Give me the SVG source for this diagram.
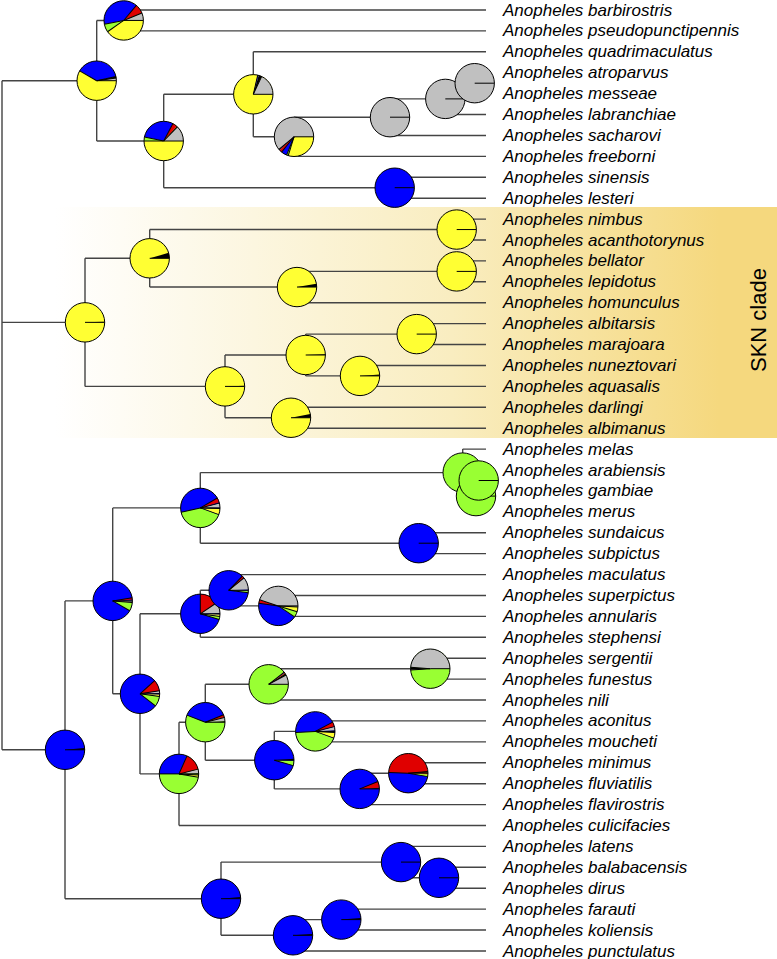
<svg xmlns="http://www.w3.org/2000/svg" xmlns:xlink="http://www.w3.org/1999/xlink" width="777" height="959" viewBox="0 0 777 959">
<style>
.e{fill:none;stroke:#444;stroke-width:1.4}
.t{font-family:"Liberation Sans",Arial,sans-serif;font-size:17px;font-style:italic;fill:#000}
.bye{fill:#ffff33}.bgy{fill:#c0c0c0}.bbl{fill:#0000ff}.bgn{fill:#99ff33}.brd{fill:#e00000}
.w{fill:none;stroke-width:19.7}
.sye{stroke:#ffff33}.sgy{stroke:#c0c0c0}.sbl{stroke:#0000ff}.sgn{stroke:#99ff33}.srd{stroke:#e00000}.sbk{stroke:#000}
.o{fill:none;stroke:#000;stroke-width:1}
.rl{stroke:#000;stroke-width:1}
</style>
<defs>
<linearGradient id="skn" x1="55" y1="0" x2="777" y2="0" gradientUnits="userSpaceOnUse">
<stop offset="0" stop-color="#ffffff"/>
<stop offset="0.55" stop-color="#f9edc0"/>
<stop offset="0.92" stop-color="#f5d87e"/>
<stop offset="1" stop-color="#f5d87e"/>
</linearGradient>
<line id="r" class="rl" x1="0" y1="0" x2="19.7" y2="0"/>
</defs>
<rect x="55" y="207" width="722" height="231" fill="url(#skn)"/>
<text x="766" y="320" transform="rotate(-90 766 320)" text-anchor="middle" font-family="'Liberation Sans',Arial,sans-serif" font-size="22">SKN clade</text>

<g id="connectors" class="e">
<path d="M2 80.7V749.8M2 80.7H96.7M2 322.35H85M2 749.8H65"/>
<path d="M96.7 20.45V141M96.7 20.45H123.7M96.7 141H163.7"/>
<path d="M123.7 10V30.9M123.7 10H486M123.7 30.9H486"/>
<path d="M163.7 94.3V187.7M163.7 94.3H253.3M163.7 187.7H394.7"/>
<path d="M253.3 51.8V136.8M253.3 51.8H486M253.3 136.8H294"/>
<path d="M294 117.2V156.4M294 117.2H390M294 156.4H486"/>
<path d="M390 98.9V135.5M390 98.9H445.3M390 135.5H486"/>
<path d="M445.3 83.2V114.55M445.3 83.2H474.7M445.3 114.55H486"/>
<path d="M474.7 72.7V93.6M474.7 72.7H486M474.7 93.6H486"/>
<path d="M394.7 177.3V198.2M394.7 177.3H486M394.7 198.2H486"/>
<path d="M85 258.3V386.4M85 258.3H149.7M85 386.4H225"/>
<path d="M149.7 229.55V287.05M149.7 229.55H456.7M149.7 287.05H297"/>
<path d="M456.7 219.1V240M456.7 219.1H486M456.7 240H486"/>
<path d="M297 271.4V302.7M297 271.4H456.7M297 302.7H486"/>
<path d="M456.7 260.9V281.8M456.7 260.9H486M456.7 281.8H486"/>
<path d="M225 355V417.75M225 355H305.7M225 417.75H291"/>
<path d="M305.7 334.1V375.9M305.7 334.1H416.7M305.7 375.9H360"/>
<path d="M416.7 323.65V344.55M416.7 323.65H486M416.7 344.55H486"/>
<path d="M360 365.5V386.4M360 365.5H486M360 386.4H486"/>
<path d="M291 407.3V428.2M291 407.3H486M291 428.2H486"/>
<path d="M65 600.9V898.7M65 600.9H112.7M65 898.7H221"/>
<path d="M112.7 507.9V693.8M112.7 507.9H200.3M112.7 693.8H140"/>
<path d="M200.3 472.6V543.2M200.3 472.6H462.7M200.3 543.2H418.7"/>
<path d="M462.7 449.1V496.1M462.7 449.1H486M462.7 496.1H476"/>
<path d="M476 480.5V511.8M476 480.5H478.7M476 511.8H486"/>
<path d="M478.7 470V490.9M478.7 470H486M478.7 490.9H486"/>
<path d="M418.7 532.75V553.65M418.7 532.75H486M418.7 553.65H486"/>
<path d="M140 613.8V773.9M140 613.8H200.3M140 773.9H179"/>
<path d="M200.3 590.3V637.3M200.3 590.3H228.7M200.3 637.3H486"/>
<path d="M228.7 574.6V605.9M228.7 574.6H486M228.7 605.9H278.3"/>
<path d="M278.3 595.5V616.4M278.3 595.5H486M278.3 616.4H486"/>
<path d="M179 722.2V825.5M179 722.2H205.3M179 825.5H486"/>
<path d="M205.3 684.3V760.2M205.3 684.3H268.7M205.3 760.2H274.3"/>
<path d="M268.7 668.7V700M268.7 668.7H430.3M268.7 700H486"/>
<path d="M430.3 658.2V679.1M430.3 658.2H486M430.3 679.1H486"/>
<path d="M274.3 731.4V788.9M274.3 731.4H315.3M274.3 788.9H359.7"/>
<path d="M315.3 720.9V741.85M315.3 720.9H486M315.3 741.85H486"/>
<path d="M359.7 773.2V804.6M359.7 773.2H408.3M359.7 804.6H486"/>
<path d="M408.3 762.8V783.7M408.3 762.8H486M408.3 783.7H486"/>
<path d="M221 862.1V935.3M221 862.1H401M221 935.3H293"/>
<path d="M401 846.4V877.8M401 846.4H486M401 877.8H439"/>
<path d="M439 867.3V888.2M439 867.3H486M439 888.2H486"/>
<path d="M293 919.6V951M293 919.6H341.3M293 951H486"/>
<path d="M341.3 909.1V930M341.3 909.1H486M341.3 930H486"/>
</g>

<g id="pies">
<g id="node-A" transform="translate(96.7 80.7)"><circle r="19.7" class="bye"/>
<circle r="9.85" pathLength="360" class="w sgy" stroke-dasharray="8 400" transform="rotate(-8)"/>
<circle r="9.85" pathLength="360" class="w sbk" stroke-dasharray="4 400" transform="rotate(-12)"/>
<circle r="9.85" pathLength="360" class="w sbl" stroke-dasharray="138 400" transform="rotate(-150)"/>
<circle r="19.7" class="o"/><use href="#r"/><use href="#r" transform="rotate(-8)"/><use href="#r" transform="rotate(-12)"/><use href="#r" transform="rotate(-150)"/></g>

<g id="node-B" transform="translate(123.7 20.45)"><circle r="19.7" class="bye"/>
<circle r="9.85" pathLength="360" class="w sgy" stroke-dasharray="22 400" transform="rotate(-22)"/>
<circle r="9.85" pathLength="360" class="w srd" stroke-dasharray="28 400" transform="rotate(-50)"/>
<circle r="9.85" pathLength="360" class="w sbl" stroke-dasharray="141 400" transform="rotate(-191)"/>
<circle r="9.85" pathLength="360" class="w sgn" stroke-dasharray="24 400" transform="rotate(-215)"/>
<circle r="19.7" class="o"/><use href="#r"/><use href="#r" transform="rotate(-22)"/><use href="#r" transform="rotate(-50)"/><use href="#r" transform="rotate(-191)"/><use href="#r" transform="rotate(-215)"/></g>

<g id="node-C" transform="translate(163.7 141)"><circle r="19.7" class="bye"/>
<circle r="9.85" pathLength="360" class="w sgy" stroke-dasharray="46 400" transform="rotate(-46)"/>
<circle r="9.85" pathLength="360" class="w sbk" stroke-dasharray="2 400" transform="rotate(-48)"/>
<circle r="9.85" pathLength="360" class="w srd" stroke-dasharray="14 400" transform="rotate(-62)"/>
<circle r="9.85" pathLength="360" class="w sbl" stroke-dasharray="106 400" transform="rotate(-168)"/>
<circle r="9.85" pathLength="360" class="w sgn" stroke-dasharray="12 400" transform="rotate(-180)"/>
<circle r="19.7" class="o"/><use href="#r"/><use href="#r" transform="rotate(-46)"/><use href="#r" transform="rotate(-62)"/><use href="#r" transform="rotate(-168)"/><use href="#r" transform="rotate(-180)"/></g>

<g id="node-D" transform="translate(253.3 94.3)"><circle r="19.7" class="bye"/>
<circle r="9.85" pathLength="360" class="w sgy" stroke-dasharray="65 400" transform="rotate(-65)"/>
<circle r="9.85" pathLength="360" class="w sbk" stroke-dasharray="9 400" transform="rotate(-74)"/>
<circle r="9.85" pathLength="360" class="w sbl" stroke-dasharray="3 400" transform="rotate(-77)"/>
<circle r="19.7" class="o"/><use href="#r"/><use href="#r" transform="rotate(-65)"/><use href="#r" transform="rotate(-77)"/></g>

<g id="node-E" transform="translate(294 136.8)"><circle r="19.7" class="bgy"/>
<circle r="9.85" pathLength="360" class="w sbk" stroke-dasharray="3 400" transform="rotate(-223)"/>
<circle r="9.85" pathLength="360" class="w srd" stroke-dasharray="8 400" transform="rotate(-231)"/>
<circle r="9.85" pathLength="360" class="w sbl" stroke-dasharray="17 400" transform="rotate(-248)"/>
<circle r="9.85" pathLength="360" class="w sgn" stroke-dasharray="5 400" transform="rotate(-253)"/>
<circle r="9.85" pathLength="360" class="w sye" stroke-dasharray="107 400"/>
<circle r="19.7" class="o"/><use href="#r"/><use href="#r" transform="rotate(-220)"/><use href="#r" transform="rotate(-231)"/><use href="#r" transform="rotate(-248)"/><use href="#r" transform="rotate(-253)"/></g>

<g id="node-F" transform="translate(390 117.2)"><circle r="19.7" class="bgy"/><circle r="19.7" class="o"/><use href="#r"/></g>
<g id="node-G" transform="translate(445.3 98.9)"><circle r="19.7" class="bgy"/><circle r="19.7" class="o"/><use href="#r"/></g>
<g id="node-H" transform="translate(474.7 83.2)"><circle r="19.7" class="bgy"/><circle r="19.7" class="o"/><use href="#r"/></g>
<g id="node-I" transform="translate(394.7 187.7)"><circle r="19.7" class="bbl"/><circle r="19.7" class="o"/><use href="#r"/></g>

<g id="node-S" transform="translate(85 322.35)"><circle r="19.7" class="bye"/>
<circle r="9.85" pathLength="360" class="w sbk" stroke-dasharray="2 400" transform="rotate(-2)"/>
<circle r="19.7" class="o"/><use href="#r"/></g>
<g id="node-T" transform="translate(149.7 258.3)"><circle r="19.7" class="bye"/>
<circle r="9.85" pathLength="360" class="w sbk" stroke-dasharray="16 400" transform="rotate(-16)"/>
<circle r="19.7" class="o"/><use href="#r"/></g>
<g id="node-U" transform="translate(456.7 229.55)"><circle r="19.7" class="bye"/><circle r="19.7" class="o"/><use href="#r"/></g>
<g id="node-V" transform="translate(297 287.05)"><circle r="19.7" class="bye"/>
<circle r="9.85" pathLength="360" class="w sbk" stroke-dasharray="10 400" transform="rotate(-10)"/>
<circle r="19.7" class="o"/><use href="#r"/></g>
<g id="node-W" transform="translate(456.7 271.4)"><circle r="19.7" class="bye"/><circle r="19.7" class="o"/><use href="#r"/></g>
<g id="node-X" transform="translate(225 386.4)"><circle r="19.7" class="bye"/>
<circle r="9.85" pathLength="360" class="w sbk" stroke-dasharray="2 400" transform="rotate(-2)"/>
<circle r="19.7" class="o"/><use href="#r"/></g>
<g id="node-Y" transform="translate(305.7 355)"><circle r="19.7" class="bye"/>
<circle r="9.85" pathLength="360" class="w sbk" stroke-dasharray="2 400" transform="rotate(-2)"/>
<circle r="19.7" class="o"/><use href="#r"/></g>
<g id="node-Z" transform="translate(416.7 334.1)"><circle r="19.7" class="bye"/><circle r="19.7" class="o"/><use href="#r"/></g>
<g id="node-Q" transform="translate(360 375.9)"><circle r="19.7" class="bye"/>
<circle r="9.85" pathLength="360" class="w sbk" stroke-dasharray="4 400" transform="rotate(-4)"/>
<circle r="19.7" class="o"/><use href="#r"/></g>
<g id="node-R" transform="translate(291 417.75)"><circle r="19.7" class="bye"/>
<circle r="9.85" pathLength="360" class="w sbk" stroke-dasharray="11 400" transform="rotate(-11)"/>
<circle r="19.7" class="o"/><use href="#r"/></g>

<g id="node-BOT" transform="translate(65 749.8)"><circle r="19.7" class="bbl"/>
<circle r="9.85" pathLength="360" class="w sbk" stroke-dasharray="5 400" transform="rotate(-5)"/>
<circle r="19.7" class="o"/><use href="#r"/></g>

<g id="node-M1" transform="translate(112.7 600.9)"><circle r="19.7" class="bbl"/>
<circle r="9.85" pathLength="360" class="w sgy" stroke-dasharray="2 400" transform="rotate(-2)"/>
<circle r="9.85" pathLength="360" class="w sbk" stroke-dasharray="2 400" transform="rotate(-4)"/>
<circle r="9.85" pathLength="360" class="w srd" stroke-dasharray="5 400" transform="rotate(-9)"/>
<circle r="9.85" pathLength="360" class="w sgn" stroke-dasharray="25 400" transform="rotate(-355)"/>
<circle r="9.85" pathLength="360" class="w sye" stroke-dasharray="3 400" transform="rotate(-358)"/>
<circle r="19.7" class="o"/><use href="#r"/><use href="#r" transform="rotate(-9)"/><use href="#r" transform="rotate(-330)"/><use href="#r" transform="rotate(-355)"/></g>

<g id="node-M2" transform="translate(200.3 507.9)"><circle r="19.7" class="bbl"/>
<circle r="9.85" pathLength="360" class="w sgy" stroke-dasharray="14 400" transform="rotate(-14)"/>
<circle r="9.85" pathLength="360" class="w sbk" stroke-dasharray="2 400" transform="rotate(-16)"/>
<circle r="9.85" pathLength="360" class="w srd" stroke-dasharray="14 400" transform="rotate(-30)"/>
<circle r="9.85" pathLength="360" class="w sgn" stroke-dasharray="147 400" transform="rotate(-340)"/>
<circle r="9.85" pathLength="360" class="w sye" stroke-dasharray="18 400" transform="rotate(-358)"/>
<circle r="19.7" class="o"/><use href="#r"/><use href="#r" transform="rotate(-14)"/><use href="#r" transform="rotate(-30)"/><use href="#r" transform="rotate(-193)"/><use href="#r" transform="rotate(-340)"/><use href="#r" transform="rotate(-358)"/></g>

<g id="node-GA" transform="translate(462.7 472.6)"><circle r="19.7" class="bgn"/><circle r="19.7" class="o"/><use href="#r"/></g>
<g id="node-GC" transform="translate(476 496.1)"><circle r="19.7" class="bgn"/><circle r="19.7" class="o"/><use href="#r"/></g>
<g id="node-GB" transform="translate(478.7 480.5)"><circle r="19.7" class="bgn"/><circle r="19.7" class="o"/><use href="#r"/></g>
<g id="node-SU" transform="translate(418.7 543.2)"><circle r="19.7" class="bbl"/><circle r="19.7" class="o"/><use href="#r"/></g>

<g id="node-M3" transform="translate(140 693.8)"><circle r="19.7" class="bbl"/>
<circle r="9.85" pathLength="360" class="w sbk" stroke-dasharray="2 400" transform="rotate(-2)"/>
<circle r="9.85" pathLength="360" class="w sgy" stroke-dasharray="7 400" transform="rotate(-9)"/>
<circle r="9.85" pathLength="360" class="w srd" stroke-dasharray="33 400" transform="rotate(-42)"/>
<circle r="9.85" pathLength="360" class="w sgn" stroke-dasharray="30 400" transform="rotate(-352)"/>
<circle r="9.85" pathLength="360" class="w sye" stroke-dasharray="6 400" transform="rotate(-358)"/>
<circle r="19.7" class="o"/><use href="#r"/><use href="#r" transform="rotate(-9)"/><use href="#r" transform="rotate(-42)"/><use href="#r" transform="rotate(-322)"/><use href="#r" transform="rotate(-352)"/></g>

<g id="node-M4" transform="translate(200.3 613.8)"><circle r="19.7" class="bbl"/>
<circle r="9.85" pathLength="360" class="w sbk" stroke-dasharray="2 400" transform="rotate(-2)"/>
<circle r="9.85" pathLength="360" class="w sgy" stroke-dasharray="32 400" transform="rotate(-34)"/>
<circle r="9.85" pathLength="360" class="w srd" stroke-dasharray="56 400" transform="rotate(-90)"/>
<circle r="9.85" pathLength="360" class="w sgn" stroke-dasharray="9 400" transform="rotate(-352)"/>
<circle r="9.85" pathLength="360" class="w sye" stroke-dasharray="6 400" transform="rotate(-358)"/>
<circle r="19.7" class="o"/><use href="#r"/><use href="#r" transform="rotate(-34)"/><use href="#r" transform="rotate(-90)"/><use href="#r" transform="rotate(-343)"/><use href="#r" transform="rotate(-352)"/></g>

<g id="node-M5" transform="translate(228.7 590.3)"><circle r="19.7" class="bbl"/>
<circle r="9.85" pathLength="360" class="w sbk" stroke-dasharray="2 400" transform="rotate(-2)"/>
<circle r="9.85" pathLength="360" class="w sgy" stroke-dasharray="37 400" transform="rotate(-39)"/>
<circle r="9.85" pathLength="360" class="w srd" stroke-dasharray="7 400" transform="rotate(-46)"/>
<circle r="9.85" pathLength="360" class="w sgn" stroke-dasharray="4 400" transform="rotate(-357)"/>
<circle r="9.85" pathLength="360" class="w sye" stroke-dasharray="2 400" transform="rotate(-359)"/>
<circle r="19.7" class="o"/><use href="#r"/><use href="#r" transform="rotate(-39)"/><use href="#r" transform="rotate(-46)"/><use href="#r" transform="rotate(-353)"/></g>

<g id="node-M6" transform="translate(278.3 605.9)"><circle r="19.7" class="bgy"/>
<circle r="9.85" pathLength="360" class="w srd" stroke-dasharray="10 400" transform="rotate(-172)"/>
<circle r="9.85" pathLength="360" class="w sbl" stroke-dasharray="154 400" transform="rotate(-326)"/>
<circle r="9.85" pathLength="360" class="w sgn" stroke-dasharray="17 400" transform="rotate(-343)"/>
<circle r="9.85" pathLength="360" class="w sye" stroke-dasharray="14 400" transform="rotate(-357)"/>
<circle r="19.7" class="o"/><use href="#r"/><use href="#r" transform="rotate(-162)"/><use href="#r" transform="rotate(-172)"/><use href="#r" transform="rotate(-326)"/><use href="#r" transform="rotate(-343)"/><use href="#r" transform="rotate(-357)"/></g>

<g id="node-M7" transform="translate(179 773.9)"><circle r="19.7" class="bgn"/>
<circle r="9.85" pathLength="360" class="w sbk" stroke-dasharray="2 400" transform="rotate(-2)"/>
<circle r="9.85" pathLength="360" class="w sgy" stroke-dasharray="12 400" transform="rotate(-14)"/>
<circle r="9.85" pathLength="360" class="w srd" stroke-dasharray="52 400" transform="rotate(-66)"/>
<circle r="9.85" pathLength="360" class="w sbl" stroke-dasharray="114 400" transform="rotate(-180)"/>
<circle r="9.85" pathLength="360" class="w sye" stroke-dasharray="7 400" transform="rotate(-357)"/>
<circle r="19.7" class="o"/><use href="#r"/><use href="#r" transform="rotate(-14)"/><use href="#r" transform="rotate(-66)"/><use href="#r" transform="rotate(-180)"/><use href="#r" transform="rotate(-350)"/><use href="#r" transform="rotate(-357)"/></g>

<g id="node-M8" transform="translate(205.3 722.2)"><circle r="19.7" class="bgn"/>
<circle r="9.85" pathLength="360" class="w sbk" stroke-dasharray="3 400" transform="rotate(-3)"/>
<circle r="9.85" pathLength="360" class="w sgy" stroke-dasharray="11 400" transform="rotate(-14)"/>
<circle r="9.85" pathLength="360" class="w srd" stroke-dasharray="8 400" transform="rotate(-22)"/>
<circle r="9.85" pathLength="360" class="w sbl" stroke-dasharray="137 400" transform="rotate(-159)"/>
<circle r="19.7" class="o"/><use href="#r"/><use href="#r" transform="rotate(-14)"/><use href="#r" transform="rotate(-22)"/><use href="#r" transform="rotate(-159)"/></g>

<g id="node-M9" transform="translate(268.7 684.3)"><circle r="19.7" class="bgn"/>
<circle r="9.85" pathLength="360" class="w sgy" stroke-dasharray="28 400" transform="rotate(-28)"/>
<circle r="9.85" pathLength="360" class="w sbk" stroke-dasharray="5 400" transform="rotate(-33)"/>
<circle r="9.85" pathLength="360" class="w srd" stroke-dasharray="3 400" transform="rotate(-36)"/>
<circle r="9.85" pathLength="360" class="w sbl" stroke-dasharray="2 400" transform="rotate(-38)"/>
<circle r="19.7" class="o"/><use href="#r"/><use href="#r" transform="rotate(-28)"/><use href="#r" transform="rotate(-38)"/></g>

<g id="node-M11" transform="translate(430.3 668.7)"><circle r="19.7" class="bgn"/>
<circle r="9.85" pathLength="360" class="w sgy" stroke-dasharray="176 400" transform="rotate(-176)"/>
<circle r="9.85" pathLength="360" class="w sbk" stroke-dasharray="6 400" transform="rotate(-182)"/>
<circle r="9.85" pathLength="360" class="w srd" stroke-dasharray="1 400" transform="rotate(-183)"/>
<circle r="9.85" pathLength="360" class="w sbl" stroke-dasharray="1 400" transform="rotate(-184)"/>
<circle r="19.7" class="o"/><use href="#r"/><use href="#r" transform="rotate(-176)"/><use href="#r" transform="rotate(-184)"/></g>

<g id="node-M10" transform="translate(274.3 760.2)"><circle r="19.7" class="bbl"/>
<circle r="9.85" pathLength="360" class="w sbk" stroke-dasharray="4 400" transform="rotate(-4)"/>
<circle r="9.85" pathLength="360" class="w sgn" stroke-dasharray="14 400" transform="rotate(-358)"/>
<circle r="19.7" class="o"/><use href="#r"/><use href="#r" transform="rotate(-344)"/></g>

<g id="node-M12" transform="translate(315.3 731.4)"><circle r="19.7" class="bbl"/>
<circle r="9.85" pathLength="360" class="w sbk" stroke-dasharray="3 400" transform="rotate(-3)"/>
<circle r="9.85" pathLength="360" class="w sgy" stroke-dasharray="11 400" transform="rotate(-14)"/>
<circle r="9.85" pathLength="360" class="w srd" stroke-dasharray="14 400" transform="rotate(-28)"/>
<circle r="9.85" pathLength="360" class="w sgn" stroke-dasharray="157 400" transform="rotate(-340)"/>
<circle r="9.85" pathLength="360" class="w sye" stroke-dasharray="17 400" transform="rotate(-357)"/>
<circle r="19.7" class="o"/><use href="#r"/><use href="#r" transform="rotate(-14)"/><use href="#r" transform="rotate(-28)"/><use href="#r" transform="rotate(-183)"/><use href="#r" transform="rotate(-340)"/><use href="#r" transform="rotate(-357)"/></g>

<g id="node-M13" transform="translate(359.7 788.9)"><circle r="19.7" class="bbl"/>
<circle r="9.85" pathLength="360" class="w sbk" stroke-dasharray="3 400" transform="rotate(-3)"/>
<circle r="9.85" pathLength="360" class="w srd" stroke-dasharray="19 400" transform="rotate(-22)"/>
<circle r="19.7" class="o"/><use href="#r"/><use href="#r" transform="rotate(-22)"/></g>

<g id="node-M14" transform="translate(408.3 773.2)"><circle r="19.7" class="brd"/>
<circle r="9.85" pathLength="360" class="w sgy" stroke-dasharray="2 400" transform="rotate(-2)"/>
<circle r="9.85" pathLength="360" class="w sbk" stroke-dasharray="3 400" transform="rotate(-5)"/>
<circle r="9.85" pathLength="360" class="w sbl" stroke-dasharray="172 400" transform="rotate(-350)"/>
<circle r="9.85" pathLength="360" class="w sgn" stroke-dasharray="6 400" transform="rotate(-356)"/>
<circle r="9.85" pathLength="360" class="w sye" stroke-dasharray="2 400" transform="rotate(-358)"/>
<circle r="19.7" class="o"/><use href="#r"/><use href="#r" transform="rotate(-5)"/><use href="#r" transform="rotate(-178)"/><use href="#r" transform="rotate(-350)"/></g>

<g id="node-N1" transform="translate(221 898.7)"><circle r="19.7" class="bbl"/>
<circle r="9.85" pathLength="360" class="w sbk" stroke-dasharray="5 400" transform="rotate(-5)"/>
<circle r="19.7" class="o"/><use href="#r"/></g>
<g id="node-N2" transform="translate(401 862.1)"><circle r="19.7" class="bbl"/>
<circle r="19.7" class="o"/><use href="#r"/></g>
<g id="node-N3" transform="translate(439 877.8)"><circle r="19.7" class="bbl"/><circle r="19.7" class="o"/><use href="#r"/></g>
<g id="node-N4" transform="translate(293 935.3)"><circle r="19.7" class="bbl"/>
<circle r="9.85" pathLength="360" class="w sbk" stroke-dasharray="4 400" transform="rotate(-4)"/>
<circle r="19.7" class="o"/><use href="#r"/></g>
<g id="node-N5" transform="translate(341.3 919.6)"><circle r="19.7" class="bbl"/>
<circle r="9.85" pathLength="360" class="w sbk" stroke-dasharray="5 400" transform="rotate(-5)"/>
<circle r="19.7" class="o"/><use href="#r"/></g>
</g>

<g id="leaves" class="t">
<g id="leaf-barbirostris"><text x="503" y="15.5">Anopheles barbirostris</text></g>
<g id="leaf-pseudopunctipennis"><text x="503" y="36.4">Anopheles pseudopunctipennis</text></g>
<g id="leaf-quadrimaculatus"><text x="503" y="57.3">Anopheles quadrimaculatus</text></g>
<g id="leaf-atroparvus"><text x="503" y="78.2">Anopheles atroparvus</text></g>
<g id="leaf-messeae"><text x="503" y="99.1">Anopheles messeae</text></g>
<g id="leaf-labranchiae"><text x="503" y="120.1">Anopheles labranchiae</text></g>
<g id="leaf-sacharovi"><text x="503" y="141">Anopheles sacharovi</text></g>
<g id="leaf-freeborni"><text x="503" y="161.9">Anopheles freeborni</text></g>
<g id="leaf-sinensis"><text x="503" y="182.8">Anopheles sinensis</text></g>
<g id="leaf-lesteri"><text x="503" y="203.7">Anopheles lesteri</text></g>
<g id="leaf-nimbus"><text x="503" y="224.6">Anopheles nimbus</text></g>
<g id="leaf-acanthotorynus"><text x="503" y="245.5">Anopheles acanthotorynus</text></g>
<g id="leaf-bellator"><text x="503" y="266.4">Anopheles bellator</text></g>
<g id="leaf-lepidotus"><text x="503" y="287.3">Anopheles lepidotus</text></g>
<g id="leaf-homunculus"><text x="503" y="308.2">Anopheles homunculus</text></g>
<g id="leaf-albitarsis"><text x="503" y="329.2">Anopheles albitarsis</text></g>
<g id="leaf-marajoara"><text x="503" y="350.1">Anopheles marajoara</text></g>
<g id="leaf-nuneztovari"><text x="503" y="371">Anopheles nuneztovari</text></g>
<g id="leaf-aquasalis"><text x="503" y="391.9">Anopheles aquasalis</text></g>
<g id="leaf-darlingi"><text x="503" y="412.8">Anopheles darlingi</text></g>
<g id="leaf-albimanus"><text x="503" y="433.7">Anopheles albimanus</text></g>
<g id="leaf-melas"><text x="503" y="454.6">Anopheles melas</text></g>
<g id="leaf-arabiensis"><text x="503" y="475.5">Anopheles arabiensis</text></g>
<g id="leaf-gambiae"><text x="503" y="496.4">Anopheles gambiae</text></g>
<g id="leaf-merus"><text x="503" y="517.3">Anopheles merus</text></g>
<g id="leaf-sundaicus"><text x="503" y="538.3">Anopheles sundaicus</text></g>
<g id="leaf-subpictus"><text x="503" y="559.2">Anopheles subpictus</text></g>
<g id="leaf-maculatus"><text x="503" y="580.1">Anopheles maculatus</text></g>
<g id="leaf-superpictus"><text x="503" y="601">Anopheles superpictus</text></g>
<g id="leaf-annularis"><text x="503" y="621.9">Anopheles annularis</text></g>
<g id="leaf-stephensi"><text x="503" y="642.8">Anopheles stephensi</text></g>
<g id="leaf-sergentii"><text x="503" y="663.7">Anopheles sergentii</text></g>
<g id="leaf-funestus"><text x="503" y="684.6">Anopheles funestus</text></g>
<g id="leaf-nili"><text x="503" y="705.5">Anopheles nili</text></g>
<g id="leaf-aconitus"><text x="503" y="726.4">Anopheles aconitus</text></g>
<g id="leaf-moucheti"><text x="503" y="747.4">Anopheles moucheti</text></g>
<g id="leaf-minimus"><text x="503" y="768.3">Anopheles minimus</text></g>
<g id="leaf-fluviatilis"><text x="503" y="789.2">Anopheles fluviatilis</text></g>
<g id="leaf-flavirostris"><text x="503" y="810.1">Anopheles flavirostris</text></g>
<g id="leaf-culicifacies"><text x="503" y="831">Anopheles culicifacies</text></g>
<g id="leaf-latens"><text x="503" y="851.9">Anopheles latens</text></g>
<g id="leaf-balabacensis"><text x="503" y="872.8">Anopheles balabacensis</text></g>
<g id="leaf-dirus"><text x="503" y="893.7">Anopheles dirus</text></g>
<g id="leaf-farauti"><text x="503" y="914.6">Anopheles farauti</text></g>
<g id="leaf-koliensis"><text x="503" y="935.5">Anopheles koliensis</text></g>
<g id="leaf-punctulatus"><text x="503" y="956.5">Anopheles punctulatus</text></g>
</g>
</svg>
